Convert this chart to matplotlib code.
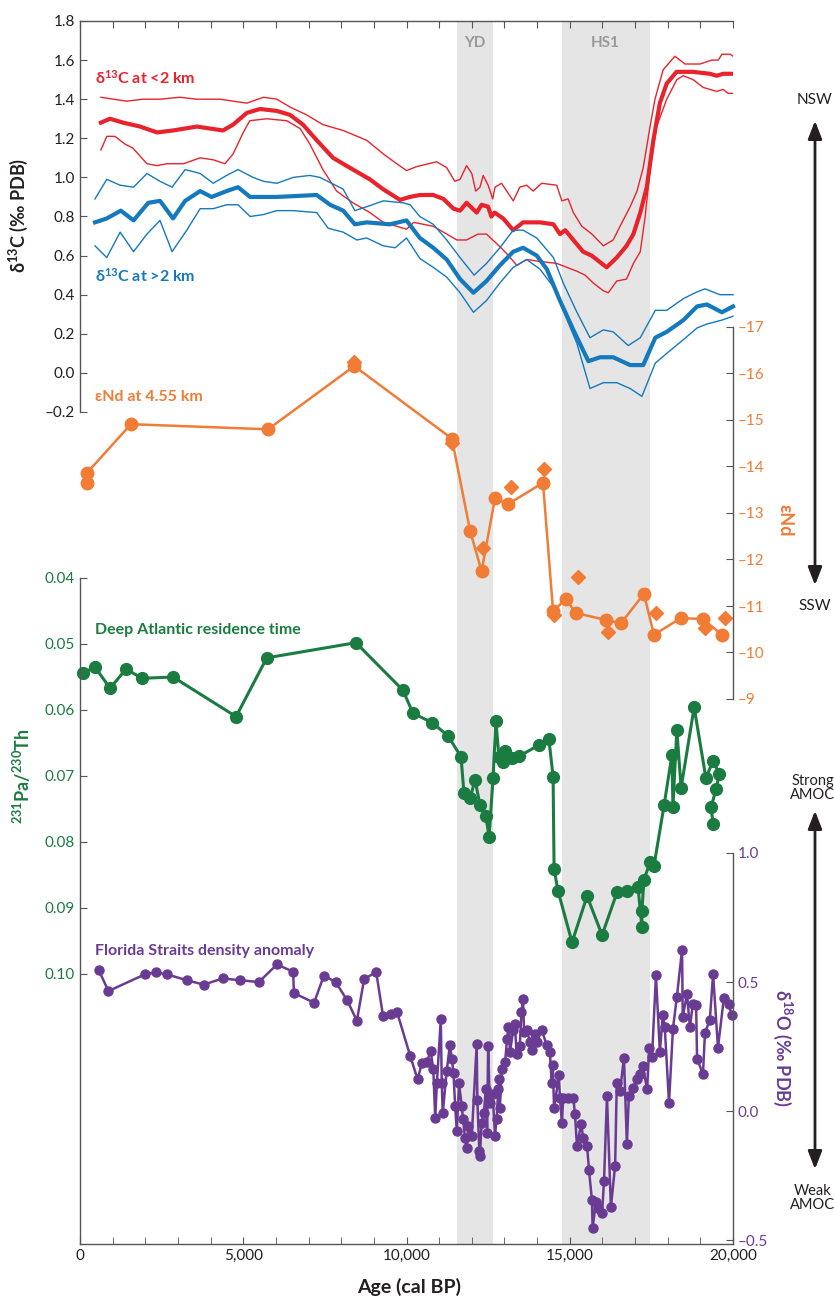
import numpy as np
import matplotlib
matplotlib.use('Agg')
import matplotlib.pyplot as plt
from matplotlib.patches import FancyArrowPatch
from matplotlib.ticker import FuncFormatter, MultipleLocator

plt.rcParams['font.family'] = ['Lato', 'DejaVu Sans']
plt.rcParams['mathtext.default'] = 'regular'

RED = '#e8232b'
BLUE = '#1479bd'
ORANGE = '#f07c36'
GREEN = '#1b7c41'
PURPLE = '#6a3b93'
DARK = '#231f20'
AXC = '#555555'
SHADE = '#e5e5e5'

# ---- d13C < 2 km (red) ----
red_age = [640, 920, 1320, 1840, 2360, 2850, 3580, 3980, 4380, 4690,
           5110, 5510, 6030, 6430, 6830, 7250, 7750, 8360, 8880, 9280,
           9800, 10100, 10410, 10820, 11130, 11440, 11640, 11840, 12150, 12300,
           12500, 12600, 12700, 12960, 13270, 13570, 14090, 14500, 14700, 14860,
           15110, 15410, 15670, 16130, 16440, 16740, 16950, 17160, 17360, 17560,
           17760, 17970, 18270, 18770, 19290, 19500, 19700, 20000]
red_mid = [1.28, 1.30, 1.28, 1.26, 1.23, 1.24, 1.26, 1.25, 1.24, 1.27,
           1.33, 1.35, 1.34, 1.32, 1.27, 1.19, 1.10, 1.04, 0.99, 0.94,
           0.885, 0.90, 0.91, 0.91, 0.89, 0.84, 0.83, 0.87, 0.82, 0.86,
           0.85, 0.80, 0.82, 0.79, 0.73, 0.77, 0.77, 0.76, 0.71, 0.73,
           0.68, 0.62, 0.60, 0.54, 0.59, 0.65, 0.71, 0.82, 0.95, 1.19,
           1.38, 1.48, 1.54, 1.54, 1.53, 1.52, 1.53, 1.53]

red_hi_age = [640, 1020, 1430, 1930, 2450, 3060, 3580, 4290, 4690, 5110,
              5620, 6030, 6430, 6940, 7440, 8060, 8780, 9290, 9700, 10000,
              10310, 10920, 11230, 11480, 11640, 11840, 12000, 12120, 12250, 12350,
              12500, 12640, 12710, 12910, 13070, 13270, 13470, 13680, 13880, 14140,
              14600, 14760, 14950, 15110, 15370, 15680, 16030, 16330, 16540, 16850,
              17060, 17250, 17460, 17610, 17860, 18220, 18530, 18990, 19350, 19550,
              19660, 19910, 20000]
red_hi = [1.41, 1.40, 1.39, 1.40, 1.40, 1.41, 1.40, 1.40, 1.39, 1.38,
          1.41, 1.40, 1.36, 1.32, 1.27, 1.24, 1.19, 1.12, 1.07, 1.035,
          1.055, 1.08, 1.05, 0.98, 0.99, 1.06, 1.02, 0.93, 0.95, 1.01,
          0.96, 0.89, 0.95, 0.97, 0.93, 0.88, 0.95, 0.96, 0.93, 0.97,
          0.96, 0.88, 0.89, 0.82, 0.75, 0.71, 0.65, 0.68, 0.75, 0.85,
          0.93, 1.05, 1.26, 1.40, 1.55, 1.62, 1.58, 1.58, 1.60, 1.60,
          1.63, 1.63, 1.62]

red_lo_age = [640, 820, 1070, 1380, 1620, 2050, 2360, 2660, 3170, 3680,
              4080, 4440, 4690, 5000, 5200, 5720, 6330, 6740, 7040, 7440,
              7860, 8360, 8880, 9290, 9700, 10000, 10220, 10820, 11130, 11540,
              11840, 12190, 12450, 12770, 13070, 13380, 13680, 14090, 14600, 14910,
              15220, 15470, 15720, 16030, 16180, 16440, 16740, 16950, 17160, 17310,
              17460, 17660, 17970, 18280, 18480, 18780, 19090, 19500, 19700, 19850,
              20000]
red_lo = [1.14, 1.21, 1.21, 1.17, 1.15, 1.07, 1.06, 1.07, 1.07, 1.10,
          1.09, 1.07, 1.12, 1.23, 1.29, 1.30, 1.29, 1.25, 1.17, 1.04,
          0.93, 0.87, 0.82, 0.77, 0.75, 0.735, 0.77, 0.75, 0.72, 0.68,
          0.68, 0.71, 0.71, 0.66, 0.61, 0.55, 0.58, 0.57, 0.56, 0.54,
          0.52, 0.50, 0.46, 0.42, 0.41, 0.47, 0.48, 0.56, 0.62, 0.80,
          1.04, 1.26, 1.40, 1.50, 1.52, 1.50, 1.46, 1.44, 1.45, 1.43,
          1.43]

# ---- d13C > 2 km (blue) ----
blue_age = [460, 820, 1250, 1640, 2090, 2450, 2850, 3220, 3680, 4030,
            4490, 4840, 5210, 6030, 7250, 7660, 8060, 8420, 8780, 9490,
            10000, 10410, 10820, 11230, 11640, 12050, 12450, 12860, 13270, 13570,
            13990, 14300, 14700, 15110, 15570, 15930, 16330, 16850, 17250, 17620,
            17970, 18480, 18900, 19200, 19660, 20000]
blue_mid = [0.77, 0.79, 0.83, 0.78, 0.87, 0.88, 0.79, 0.88, 0.93, 0.90,
            0.93, 0.95, 0.90, 0.90, 0.91, 0.86, 0.83, 0.76, 0.77, 0.76,
            0.78, 0.69, 0.64, 0.58, 0.48, 0.41, 0.47, 0.55, 0.62, 0.64,
            0.60, 0.53, 0.37, 0.22, 0.06, 0.08, 0.08, 0.04, 0.04, 0.18,
            0.21, 0.27, 0.34, 0.35, 0.31, 0.34]

blue_hi_age = [460, 820, 1230, 1640, 2050, 2450, 2820, 3220, 3680, 4080,
               4490, 4840, 5300, 5620, 6030, 6530, 7040, 7350, 8060, 8420,
               8780, 9290, 9900, 10110, 10410, 10820, 11230, 11640, 12070, 12450,
               12860, 13270, 13570, 13990, 14500, 14800, 15220, 15620, 16030, 16330,
               16790, 17160, 17620, 17970, 18480, 18840, 19140, 19600, 20000]
blue_hi = [0.89, 0.99, 0.96, 0.95, 1.02, 0.98, 0.95, 1.04, 1.02, 0.97,
           1.01, 1.04, 1.00, 0.98, 0.97, 1.00, 1.01, 1.00, 0.94, 0.83,
           0.85, 0.88, 0.87, 0.86, 0.80, 0.76, 0.68, 0.59, 0.50, 0.56,
           0.64, 0.73, 0.73, 0.69, 0.59, 0.46, 0.31, 0.18, 0.22, 0.21,
           0.14, 0.18, 0.32, 0.32, 0.38, 0.41, 0.43, 0.40, 0.40]

blue_lo_age = [460, 820, 1230, 1640, 2050, 2450, 2820, 3270, 3680, 4080,
               4490, 4840, 5210, 5620, 6030, 6530, 7250, 7600, 8060, 8480,
               8780, 9290, 9650, 10000, 10410, 10820, 11230, 11640, 12050, 12450,
               12860, 13270, 13680, 14090, 14500, 14800, 15220, 15620, 16030, 16440,
               16850, 17210, 17620, 17970, 18480, 18900, 19200, 19660, 20000]
blue_lo = [0.65, 0.59, 0.72, 0.62, 0.71, 0.78, 0.62, 0.73, 0.84, 0.84,
           0.86, 0.86, 0.80, 0.81, 0.83, 0.83, 0.82, 0.74, 0.72, 0.68,
           0.69, 0.65, 0.64, 0.69, 0.585, 0.54, 0.49, 0.41, 0.31, 0.37,
           0.46, 0.54, 0.58, 0.53, 0.44, 0.32, 0.15, -0.08, -0.05, -0.05,
           -0.08, -0.12, 0.05, 0.10, 0.17, 0.23, 0.25, 0.27, 0.29]

# ---- eNd at 4.55 km (orange) ----
nd_age = [210, 210, 1560, 5760, 8400, 11390, 11950, 12300, 12710, 13110,
          14180, 14490, 14880, 15180, 16110, 16570, 17270, 17580, 18400, 19080,
          19660]
nd_val = [-13.65, -13.86, -14.91, -14.80, -16.16, -14.60, -12.61, -11.75, -13.32, -13.19,
          -13.65, -10.89, -11.15, -10.85, -10.70, -10.63, -11.26, -10.38, -10.74, -10.72,
          -10.38]
nd2_age = [8400, 11390, 12340, 13200, 14210, 14520, 15250, 16170, 17640, 19140, 19760]
nd2_val = [-16.25, -14.50, -12.25, -13.56, -13.95, -10.81, -11.62, -10.45, -10.85, -10.53, -10.75]

# ---- 231Pa/230Th (green) ----
pa_age = [90, 460, 920, 1410, 1900, 2850, 4780, 5720, 8450, 9890,
          10200, 10780, 11270, 11670, 11760, 11950, 12100, 12250, 12430, 12530,
          12650, 12740, 12830, 12960, 13020, 13230, 13450, 14060, 14360, 14490,
          14520, 14640, 15070, 15530, 15990, 16450, 16750, 17090, 17210, 17210,
          17270, 17460, 17580, 17890, 18130, 18160, 18280, 18410, 18810, 19170,
          19390, 19580, 19480, 19330, 19390]
pa_val = [0.0544, 0.0535, 0.0567, 0.0538, 0.0552, 0.0550, 0.0610, 0.0521, 0.0498, 0.0570,
          0.0605, 0.0619, 0.0639, 0.0671, 0.0726, 0.0733, 0.0706, 0.0744, 0.0761, 0.0792,
          0.0703, 0.0617, 0.0671, 0.0679, 0.0662, 0.0673, 0.0670, 0.0653, 0.0644, 0.0701,
          0.0841, 0.0874, 0.0952, 0.0882, 0.0941, 0.0876, 0.0874, 0.0868, 0.0929, 0.0905,
          0.0858, 0.0830, 0.0836, 0.0744, 0.0668, 0.0747, 0.0630, 0.0718, 0.0596, 0.0703,
          0.0677, 0.0697, 0.0720, 0.0747, 0.0773]

# ---- Florida Straits d18O (purple) ----
fl_age = [580, 870, 1990, 2330, 2660, 3270, 3790, 4370, 4900, 5480,
          6030, 6530, 6550, 7170, 7470, 7830, 8180, 8480, 8700, 9070,
          9280, 9530, 9710, 10110, 10340, 10470, 10620, 10740, 10820, 10880,
          10930, 11050, 11080, 11110, 11230, 11330, 11390, 11440, 11490, 11540,
          11610, 11690, 11730, 11790, 11840, 11890, 12000, 12150, 12170, 12230,
          12250, 12300, 12370, 12430, 12470, 12500, 12550, 12640, 12710, 12760,
          12810, 12840, 12860, 12920, 13020, 13080, 13120, 13170, 13270, 13320,
          13370, 13470, 13520, 13570, 13600, 13680, 13780, 13840, 13930, 13990,
          14140, 14290, 14390, 14450, 14480, 14520, 14670, 14700, 14760, 14800,
          14950, 15110, 15160, 15220, 15350, 15410, 15530, 15590, 15680, 15700,
          15800, 15870, 15990, 16050, 16140, 16260, 16390, 16440, 16540, 16660,
          16750, 16810, 16940, 17060, 17150, 17240, 17370, 17430, 17520, 17640,
          17760, 17850, 17910, 18040, 18160, 18280, 18440, 18460, 18590, 18680,
          18770, 18870, 18900, 19080, 19140, 19290, 19390, 19540, 19720, 19870,
          19960]
fl_val = [0.545, 0.465, 0.530, 0.537, 0.530, 0.507, 0.490, 0.514, 0.507, 0.500,
          0.568, 0.540, 0.457, 0.420, 0.525, 0.500, 0.430, 0.350, 0.510, 0.540,
          0.370, 0.375, 0.384, 0.215, 0.123, 0.185, 0.190, 0.232, 0.165, -0.027,
          0.107, 0.355, 0.107, -0.008, 0.154, 0.257, 0.203, 0.146, 0.019, -0.077,
          0.107, 0.019, -0.031, -0.103, -0.142, -0.058, -0.096, 0.260, 0.042, -0.154,
          -0.173, -0.046, -0.008, 0.084, -0.084, 0.253, 0.031, 0.065, -0.096, -0.031,
          0.084, 0.123, 0.012, 0.165, 0.190, 0.280, 0.326, 0.230, 0.315, 0.338,
          0.223, 0.253, 0.384, 0.434, 0.307, 0.315, 0.269, 0.238, 0.300, 0.269,
          0.315, 0.257, 0.230, 0.107, 0.180, 0.012, 0.138, 0.050, -0.046, 0.050,
          0.050, 0.050, -0.012, -0.134, -0.050, -0.103, -0.134, -0.230, -0.345, -0.453,
          -0.353, -0.376, -0.395, -0.269, 0.058, -0.372, -0.211, 0.107, 0.077, 0.207,
          -0.127, 0.058, 0.088, 0.123, 0.142, 0.173, 0.084, 0.246, 0.211, 0.526,
          0.230, 0.372, 0.326, 0.031, 0.319, 0.441, 0.626, 0.365, 0.453, 0.326,
          0.415, 0.410, 0.203, 0.142, 0.303, 0.353, 0.530, 0.246, 0.438, 0.415,
          0.372]

yd_span = (11550, 12650)
hs1_span = (14750, 17450)

W, H = 834, 1300
X0, X1 = 80, 733


def rect(y0, y1):
    return [X0 / W, 1 - y1 / H, (X1 - X0) / W, (y1 - y0) / H]


def fx(px):
    return px / W


def fy(py):
    return 1 - py / H


def dash_fmt(fmt):
    return FuncFormatter(lambda v, p: (fmt % abs(v)) if v >= -1e-9 else '\u2013' + fmt % abs(v))


fig = plt.figure(figsize=(W / 100, H / 100), dpi=100)

# shaded intervals
ax_bg = fig.add_axes(rect(21, 1244))
ax_bg.set_xlim(0, 20000)
ax_bg.axvspan(*yd_span, color=SHADE, lw=0)
ax_bg.axvspan(*hs1_span, color=SHADE, lw=0)
ax_bg.axis('off')


def clean(ax, keep):
    ax.patch.set_visible(False)
    for s in ['left', 'right', 'top', 'bottom']:
        ax.spines[s].set_visible(s in keep)
        ax.spines[s].set_color(AXC)
        ax.spines[s].set_linewidth(1)
    ax.set_xlim(0, 20000)


# top panel: d13C
ax_c = fig.add_axes(rect(21, 412))
clean(ax_c, ['left', 'top'])
ax_c.set_ylim(-0.2, 1.8)
ax_c.xaxis.set_ticks_position('top')
ax_c.xaxis.set_major_locator(MultipleLocator(1000))
ax_c.tick_params(axis='x', direction='in', length=5, color=AXC, labeltop=False, labelbottom=False)
ax_c.set_yticks(np.round(np.arange(-0.2, 1.81, 0.2), 1))
ax_c.yaxis.set_major_formatter(dash_fmt('%.1f'))
ax_c.tick_params(axis='y', direction='in', length=5, color=AXC, labelsize=11, labelcolor=DARK)
ax_c.plot(red_hi_age, red_hi, color=RED, lw=1.0)
ax_c.plot(red_lo_age, red_lo, color=RED, lw=1.0)
ax_c.plot(red_age, red_mid, color=RED, lw=3.0)
ax_c.plot(blue_hi_age, blue_hi, color=BLUE, lw=1.0, clip_on=False)
ax_c.plot(blue_lo_age, blue_lo, color=BLUE, lw=1.0, clip_on=False)
ax_c.plot(blue_age, blue_mid, color=BLUE, lw=3.0, clip_on=False)

# eNd panel
ax_nd = fig.add_axes(rect(327, 699))
clean(ax_nd, ['right'])
ax_nd.set_ylim(-9, -17)
ax_nd.set_xticks([])
ax_nd.yaxis.set_ticks_position('right')
ax_nd.set_yticks(range(-17, -8))
ax_nd.yaxis.set_major_formatter(dash_fmt('%d'))
ax_nd.tick_params(axis='y', direction='in', length=5, color=AXC, labelsize=11, labelcolor=ORANGE)
ax_nd.plot(nd_age, nd_val, color=ORANGE, lw=1.8, marker='o', ms=9, clip_on=False)
ax_nd.plot(nd2_age, nd2_val, ls='none', color=ORANGE, marker='D', ms=7, clip_on=False)

# Pa/Th panel
ax_pa = fig.add_axes(rect(578, 1244))
clean(ax_pa, ['left'])
ax_pa.set_ylim(0.04 + 666 / 6600, 0.04)
ax_pa.set_xticks([])
ax_pa.set_yticks(np.round(np.arange(0.04, 0.101, 0.01), 2))
ax_pa.yaxis.set_major_formatter(dash_fmt('%.2f'))
ax_pa.tick_params(axis='y', direction='in', length=5, color=AXC, labelsize=11, labelcolor=GREEN)
ax_pa.plot(pa_age, pa_val, color=GREEN, lw=2.2, marker='o', ms=8.5, clip_on=False)

# Florida d18O panel
ax_o = fig.add_axes(rect(853, 1244))
clean(ax_o, ['right', 'bottom'])
ax_o.set_ylim(-0.515, 1.0)
ax_o.yaxis.set_ticks_position('right')
ax_o.set_yticks([-0.5, 0.0, 0.5, 1.0])
ax_o.yaxis.set_major_formatter(dash_fmt('%.1f'))
ax_o.tick_params(axis='y', direction='in', length=5, color=AXC, labelsize=11, labelcolor=PURPLE)
ax_o.xaxis.set_major_locator(MultipleLocator(5000))
ax_o.xaxis.set_minor_locator(MultipleLocator(1000))
ax_o.xaxis.set_major_formatter(FuncFormatter(lambda v, p: '{:,}'.format(int(v))))
ax_o.tick_params(axis='x', which='both', direction='in', length=5, color=AXC, labelsize=11, labelcolor=DARK)
ax_o.plot(fl_age, fl_val, color=PURPLE, lw=1.8, marker='o', ms=6.5, clip_on=False)

# texts
lab = dict(fontsize=11.5, fontweight='bold', va='center', ha='left')
fig.text(fx(95), fy(78), '\u03b4$^{13}$C at <2 km', color=RED, **lab)
fig.text(fx(95), fy(276), '\u03b4$^{13}$C at >2 km', color=BLUE, **lab)
fig.text(fx(95), fy(397), '\u03b5Nd at 4.55 km', color=ORANGE, **lab)
fig.text(fx(95), fy(630), 'Deep Atlantic residence time', color=GREEN, **lab)
fig.text(fx(95), fy(951), 'Florida Straits density anomaly', color=PURPLE, **lab)

fig.text(fx(475), fy(43), 'YD', color='#999999', fontsize=11, fontweight='bold', ha='center', va='center')
fig.text(fx(605), fy(43), 'HS1', color='#999999', fontsize=11, fontweight='bold', ha='center', va='center')

ttl = dict(fontsize=13, fontweight='bold', ha='center', va='center')
fig.text(fx(18), fy(215), '\u03b4$^{13}$C (\u2030 PDB)', rotation=90, color=DARK, **ttl)
fig.text(fx(22), fy(776), '$^{231}$Pa/$^{230}$Th', rotation=90, color=GREEN, **ttl)
fig.text(fx(785), fy(520), '\u03b5Nd', rotation=270, color=ORANGE, **ttl)
fig.text(fx(783), fy(1048), '\u03b4$^{18}$O (\u2030 PDB)', rotation=270, color=PURPLE, **ttl)
fig.text(fx(409), fy(1287), 'Age (cal BP)', color=DARK, fontsize=14, fontweight='bold',
         ha='center', va='center')

side = dict(fontsize=11, ha='center', va='center', color=DARK)
fig.text(fx(815), fy(100), 'NSW', **side)
fig.text(fx(815), fy(606), 'SSW', **side)
side2 = dict(fontsize=10.5, ha='center', va='center', color=DARK, linespacing=0.95)
fig.text(fx(813), fy(788), 'Strong\nAMOC', **side2)
fig.text(fx(813), fy(1198), 'Weak\nAMOC', **side2)

for y0, y1 in [(118, 588), (808, 1172)]:
    arr = FancyArrowPatch((fx(815), fy(y0)), (fx(815), fy(y1)), transform=fig.transFigure,
                          arrowstyle='<|-|>,head_length=0.9,head_width=0.35', mutation_scale=12,
                          lw=2, color=DARK)
    fig.add_artist(arr)

fig.savefig('out.png', dpi=100)
